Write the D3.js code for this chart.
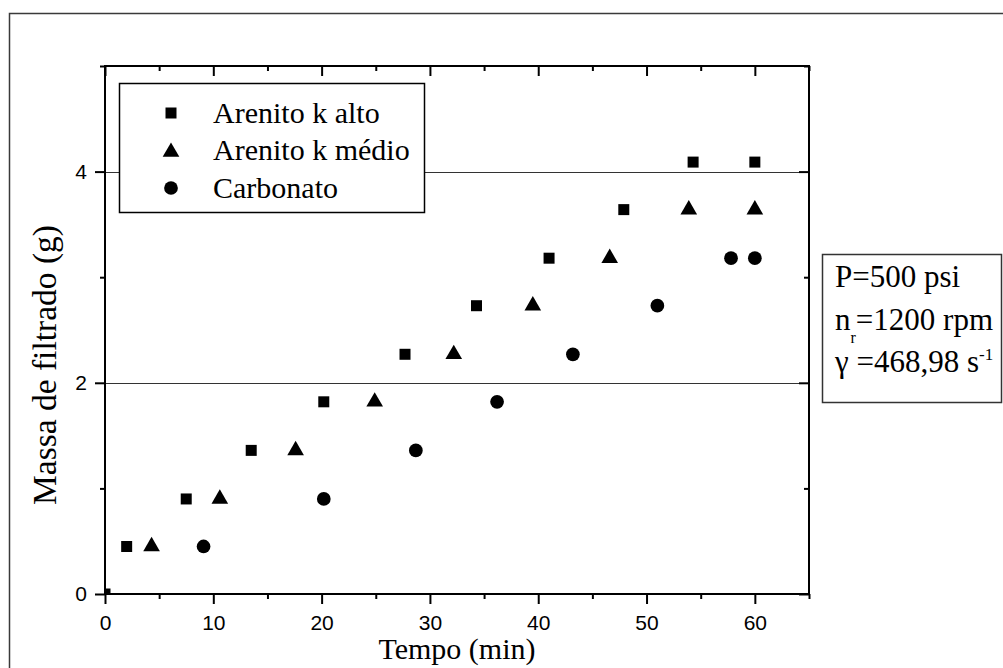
<!DOCTYPE html>
<html>
<head>
<meta charset="utf-8">
<script src="https://cdn.jsdelivr.net/npm/d3@7"></script>
<style>
  html, body { margin: 0; padding: 0; background: #fff; }
  svg { display: block; }
</style>
</head>
<body>
<svg id="chart" width="1003" height="668"></svg>
<script>
// Filtrate mass over time for three rock types
const altoTempo   = [0, 2.0, 7.5, 13.5, 20.2, 27.7, 34.3, 41.0, 47.9, 54.3, 60.0];
const altoMassa   = [0, 0.45, 0.90, 1.36, 1.82, 2.27, 2.73, 3.18, 3.64, 4.09, 4.09];
const medioTempo  = [4.3, 10.6, 17.6, 24.9, 32.2, 39.5, 46.6, 53.9, 60.0];
const medioMassa  = [0.45, 0.90, 1.36, 1.82, 2.27, 2.73, 3.18, 3.64, 3.64];
const carbTempo   = [9.1, 20.2, 28.7, 36.2, 43.2, 51.0, 57.8, 60.0];
const carbMassa   = [0.45, 0.90, 1.36, 1.82, 2.27, 2.73, 3.18, 3.18];

const seriesNames = ["Arenito k alto", "Arenito k médio", "Carbonato"];
const xMajorTicks = [0, 10, 20, 30, 40, 50, 60];
const xMinorTicks = [5, 15, 25, 35, 45, 55, 65];
const yMajorTicks = [0, 2, 4];
const yMinorTicks = [1, 3, 5];
const gridLevels  = [2, 4];

const series = [
  { name: seriesNames[0], x: altoTempo,  y: altoMassa,  symbol: d3.symbolSquare,   size: 121 },
  { name: seriesNames[1], x: medioTempo, y: medioMassa, symbol: d3.symbolTriangle, size: 120 },
  { name: seriesNames[2], x: carbTempo,  y: carbMassa,  symbol: d3.symbolCircle,   size: 148 }
];

const svg = d3.select("#chart");
const plot = { left: 105, right: 809, top: 66, bottom: 594 };

const x = d3.scaleLinear().domain([0, 65]).range([plot.left, plot.right]);
const y = d3.scaleLinear().domain([0, 5]).range([plot.bottom, plot.top]);

// outer frame
svg.append("rect")
  .attr("x", 9.5).attr("y", 13.5)
  .attr("width", 1000).attr("height", 700)
  .attr("fill", "#fff")
  .attr("stroke", "#3a3a3a").attr("stroke-width", 1.5);

// horizontal reference lines
svg.append("g").selectAll("line").data(gridLevels).join("line")
  .attr("x1", plot.left).attr("x2", plot.right)
  .attr("y1", d => Math.round(y(d)) + 0.5).attr("y2", d => Math.round(y(d)) + 0.5)
  .attr("stroke", "#333").attr("stroke-width", 1);

const tickFont = "'Liberation Sans', Arial, sans-serif";

function styleAxis(g) {
  g.attr("font-size", 21).attr("font-family", tickFont);
  g.select(".domain").remove();
  g.selectAll(".tick line").attr("stroke", "#000").attr("stroke-width", 2);
  g.selectAll(".tick text")
    .attr("font-family", tickFont).attr("font-size", 21).attr("fill", "#000");
}

// bottom axis: outward ticks with labels
svg.append("g").attr("transform", `translate(0,${plot.bottom})`)
  .call(d3.axisBottom(x).tickValues(xMajorTicks).tickSize(10).tickPadding(11).tickFormat(d3.format("d")))
  .call(styleAxis);
svg.append("g").attr("transform", `translate(0,${plot.bottom})`)
  .call(d3.axisBottom(x).tickValues(xMinorTicks).tickSize(5).tickFormat(""))
  .call(styleAxis);

// top axis: inward ticks
svg.append("g").attr("transform", `translate(0,${plot.top})`)
  .call(d3.axisTop(x).tickValues(xMajorTicks).tickSize(-10).tickFormat(""))
  .call(styleAxis);
svg.append("g").attr("transform", `translate(0,${plot.top})`)
  .call(d3.axisTop(x).tickValues(xMinorTicks).tickSize(-5).tickFormat(""))
  .call(styleAxis);

// left axis: outward ticks with labels
svg.append("g").attr("transform", `translate(${plot.left},0)`)
  .call(d3.axisLeft(y).tickValues(yMajorTicks).tickSize(10).tickPadding(8).tickFormat(d3.format("d")))
  .call(styleAxis);
svg.append("g").attr("transform", `translate(${plot.left},0)`)
  .call(d3.axisLeft(y).tickValues(yMinorTicks).tickSize(5).tickFormat(""))
  .call(styleAxis);

// right axis: inward ticks
svg.append("g").attr("transform", `translate(${plot.right},0)`)
  .call(d3.axisRight(y).tickValues(yMajorTicks).tickSize(-10).tickFormat(""))
  .call(styleAxis);
svg.append("g").attr("transform", `translate(${plot.right},0)`)
  .call(d3.axisRight(y).tickValues(yMinorTicks).tickSize(-5).tickFormat(""))
  .call(styleAxis);

// plot frame
svg.append("rect")
  .attr("x", plot.left).attr("y", plot.top)
  .attr("width", plot.right - plot.left).attr("height", plot.bottom - plot.top)
  .attr("fill", "none").attr("stroke", "#000").attr("stroke-width", 2);

// markers, clipped to the plot area
svg.append("clipPath").attr("id", "plot-clip")
  .append("rect")
  .attr("x", plot.left + 1).attr("y", plot.top)
  .attr("width", plot.right - plot.left).attr("height", plot.bottom - plot.top - 1);

const marks = svg.append("g").attr("clip-path", "url(#plot-clip)");
series.forEach(s => {
  const pts = s.x.map((v, i) => [v, s.y[i]]);
  marks.append("g").selectAll("path").data(pts).join("path")
    .attr("transform", d => `translate(${x(d[0])},${y(d[1])})`)
    .attr("d", d3.symbol().type(s.symbol).size(s.size))
    .attr("fill", "#000");
});

const serif = "'Liberation Serif', 'Times New Roman', serif";

// legend
const legend = svg.append("g");
legend.append("rect")
  .attr("x", 119.5).attr("y", 83.5).attr("width", 305).attr("height", 129)
  .attr("fill", "#fff").attr("stroke", "#000").attr("stroke-width", 1.5);
const rowY = [113, 150, 188];
series.forEach((s, i) => {
  legend.append("path")
    .attr("transform", `translate(171,${rowY[i] + (s.symbol === d3.symbolTriangle ? 2 : 0)})`)
    .attr("d", d3.symbol().type(s.symbol).size(s.size))
    .attr("fill", "#000");
  legend.append("text")
    .attr("x", 213).attr("y", rowY[i] + 10)
    .attr("font-family", serif).attr("font-size", 30).attr("fill", "#000")
    .text(s.name);
});

// axis titles
svg.append("text")
  .attr("x", (plot.left + plot.right) / 2).attr("y", 659)
  .attr("text-anchor", "middle")
  .attr("font-family", serif).attr("font-size", 30).attr("fill", "#000")
  .text("Tempo (min)");
svg.append("text")
  .attr("transform", "translate(56,365) rotate(-90)")
  .attr("text-anchor", "middle")
  .attr("font-family", serif).attr("font-size", 33.5).attr("fill", "#000")
  .text("Massa de filtrado (g)");

// test conditions box
const info = svg.append("g");
info.append("rect")
  .attr("x", 822.5).attr("y", 254.5).attr("width", 179).attr("height", 148)
  .attr("fill", "#fff").attr("stroke", "#333").attr("stroke-width", 1.5);
const infoText = info.append("g")
  .attr("font-family", serif).attr("font-size", 31).attr("fill", "#000");
infoText.append("text").attr("x", 835).attr("y", 287).text("P=500 psi");
const t2 = infoText.append("text").attr("x", 835).attr("y", 330);
t2.append("tspan").text("n");
t2.append("tspan").attr("dy", 13).attr("font-size", 16).text("r");
t2.append("tspan").attr("dy", -13).text("=1200 rpm");
const t3 = infoText.append("text").attr("x", 835).attr("y", 372);
t3.append("tspan").text("γ =468,98 s");
t3.append("tspan").attr("dy", -12).attr("font-size", 17).text("-1");
</script>
</body>
</html>
